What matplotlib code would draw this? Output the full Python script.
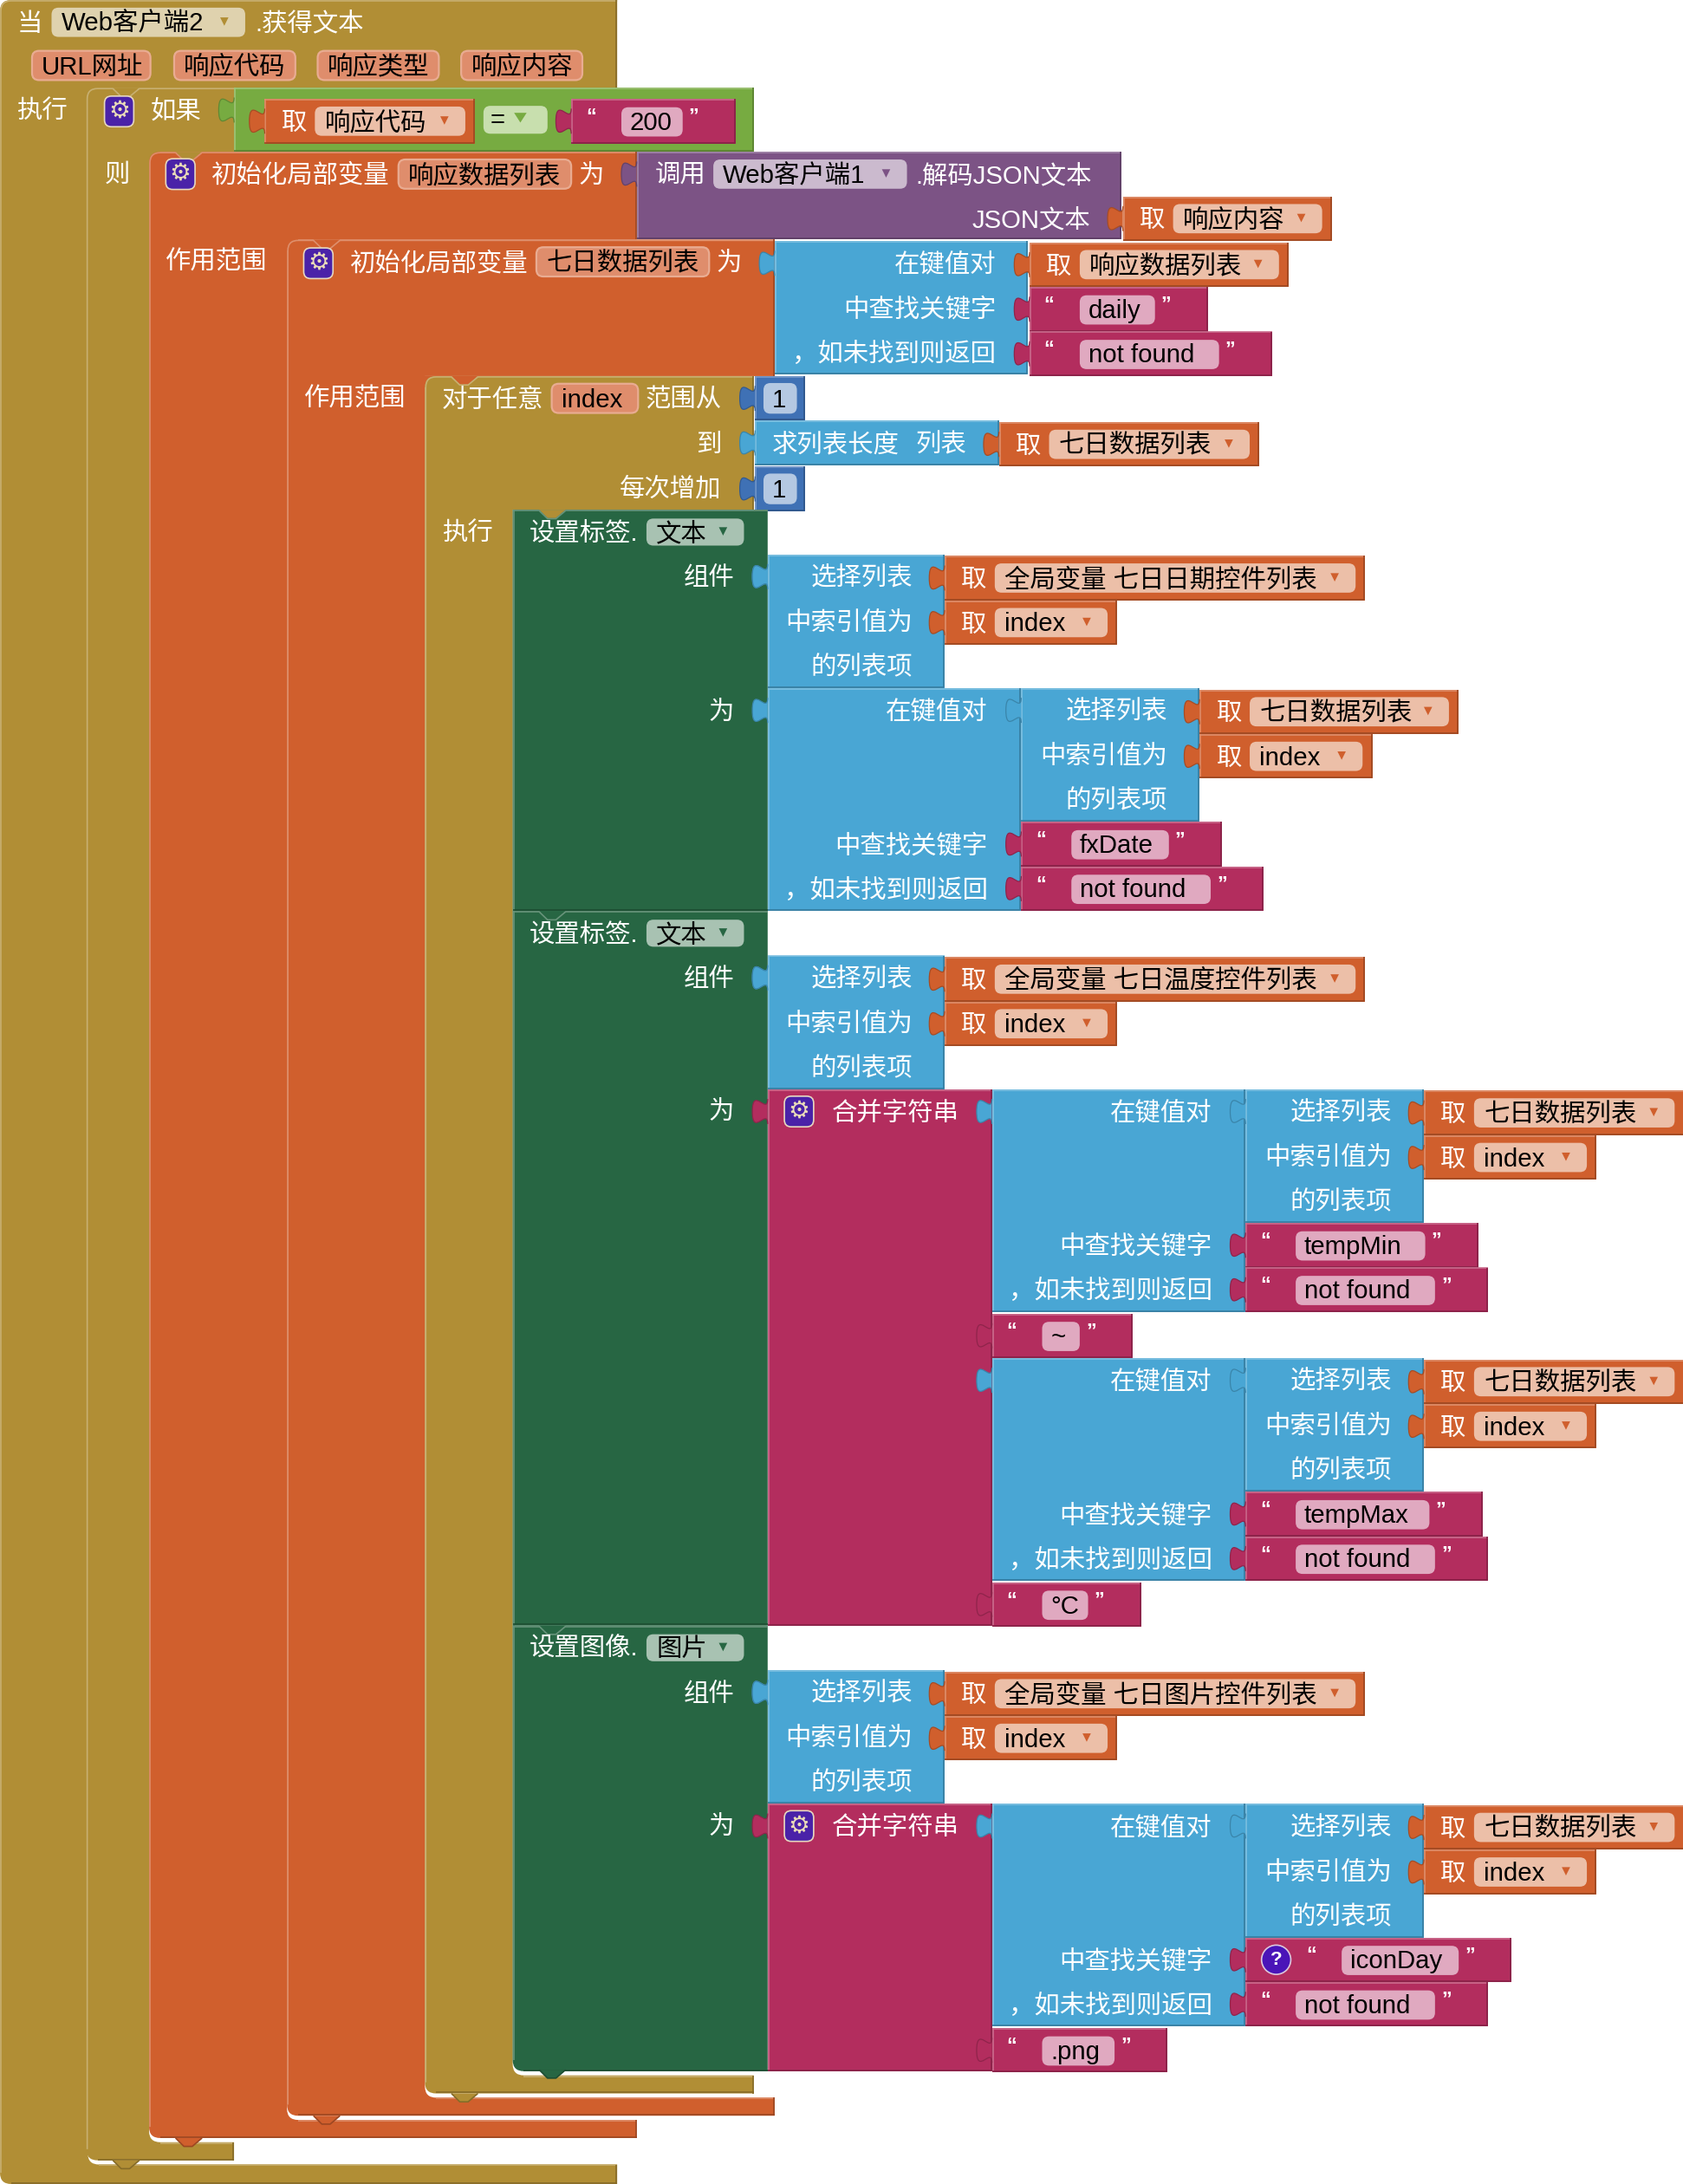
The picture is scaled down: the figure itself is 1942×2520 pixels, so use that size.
import matplotlib
matplotlib.use("Agg")
import matplotlib.pyplot as plt
from matplotlib.colors import to_rgb
from matplotlib.patches import Circle, FancyBboxPatch, PathPatch
from matplotlib.path import Path

plt.rcParams["font.family"] = ["Liberation Sans", "Noto Sans CJK SC", "DejaVu Sans"]

GOLD = "#B18E35"
ORANGE = "#D05F2D"
PURPLE = "#7C5385"
BLUE = "#49A6D4"
ROSE = "#B32D5E"
DARK_GREEN = "#276643"
NUM_BLUE = "#3F71B5"
LOGIC_GREEN = "#77AB41"
ICON = "#4A22A8"

FONT_SIZE = 21.2

EVENT_PARAMS = ["URL网址", "响应代码", "响应类型", "响应内容"]
LOOKUP_LABELS = ["在键值对", "中查找关键字", "，如未找到则返回"]
SELECT_LABELS = ["选择列表", "中索引值为", "的列表项"]
NOT_FOUND = "not found"
DAILY_LIST = "七日数据列表"
DATE_WIDGETS = "全局变量 七日日期控件列表"
TEMP_WIDGETS = "全局变量 七日温度控件列表"
IMAGE_WIDGETS = "全局变量 七日图片控件列表"
KEY_DATE = "fxDate"
KEY_MIN = "tempMin"
KEY_MAX = "tempMax"
KEY_ICON = "iconDay"


def shade(color, amount):
    rgb = to_rgb(color)
    if amount >= 0:
        return tuple(c + (1 - c) * amount for c in rgb)
    return tuple(c * (1 + amount) for c in rgb)


def label(ax, x, y, text, color="white", ha="left", size=FONT_SIZE, weight="normal"):
    ax.text(x, y + 1.3, text, color=color, ha=ha, va="center", fontsize=size, fontweight=weight,
            zorder=ax.next_z())


def edge(ax, xs, ys, color):
    ax.plot(xs, ys, color=color, lw=1.2, solid_capstyle="butt", zorder=ax.next_z())


def tab(ax, x, y, color):
    sx, sy = 11 / 8, 18 / 15
    pts = [(0, 7 / sy), (0, 10 + 7 / sy), (-8, -8 + 7 / sy), (-8, 7.5 + 7 / sy),
           (-8, 23 + 7 / sy), (0, 5 + 7 / sy), (0, 15 + 7 / sy)]
    verts = [(x + px * sx, y + py * sy) for px, py in pts]
    codes = [Path.MOVETO] + [Path.CURVE4] * 6
    ax.add_patch(PathPatch(Path(verts + [verts[0]], codes + [Path.CLOSEPOLY]), facecolor=color,
                           edgecolor="none", lw=0, zorder=ax.next_z()))
    ax.add_patch(PathPatch(Path(verts, codes), facecolor="none", edgecolor=shade(color, -0.2),
                           lw=0.9, zorder=ax.next_z()))


def box(ax, x0, y0, x1, y1, color, with_tab=True):
    ax.fill([x0, x1, x1, x0], [y0, y0, y1, y1], color=color, lw=0, zorder=ax.next_z())
    edge(ax, [x0, x1], [y0 + 0.6, y0 + 0.6], shade(color, 0.3))
    edge(ax, [x0 + 0.6, x0 + 0.6], [y0, y1], shade(color, 0.3))
    edge(ax, [x0, x1 - 0.6, x1 - 0.6], [y1 - 0.6, y1 - 0.6, y0], shade(color, -0.25))
    if with_tab:
        tab(ax, x0, y0, color)


def pill(ax, x0, y0, x1, y1, color, border=None):
    pad = 4
    ax.add_patch(FancyBboxPatch((x0 + pad, y0 + pad), x1 - x0 - 2 * pad, y1 - y0 - 2 * pad,
                                boxstyle=f"round,pad={pad},rounding_size=5",
                                facecolor=color, edgecolor=border or color,
                                lw=1.6 if border else 0, zorder=ax.next_z()))


def dropdown(ax, x0, x1, yc, text, fill, arrow, h=10.5):
    pill(ax, x0, yc - h, x1, yc + h, fill)
    label(ax, x0 + 7, yc, text, color="black")
    ax.fill([x1 - 18, x1 - 12, x1 - 15], [yc - 3.5, yc - 3.5, yc + 2.5], color=arrow, lw=0,
            zorder=ax.next_z())


def param(ax, x0, x1, yc, text):
    pill(ax, x0, yc - 10.5, x1, yc + 10.5, "#DF8D6C", border="#E9AC92")
    label(ax, x0 + 7, yc, text, color="black")


def mutator(ax, x, y):
    ax.add_patch(FancyBboxPatch((x + 4, y + 4), 13, 14, boxstyle="round,pad=4,rounding_size=5",
                                facecolor=ICON, edgecolor="#E6D8C0", lw=1.2, zorder=ax.next_z()))
    ax.text(x + 10.5, y + 10.5, "⚙", color="#EADCB8", ha="center", va="center", fontsize=20,
            family="DejaVu Sans", zorder=ax.next_z())


def get_block(ax, x, y, w, name):
    box(ax, x, y, x + w, y + 32, ORANGE)
    label(ax, x + 12, y + 16, "取")
    dropdown(ax, x + 36, x + w - 7, y + 16, name, "#ECBFA8", ORANGE)


def string_block(ax, x, y, w, text, icon=False):
    box(ax, x, y, x + w, y + 32, ROSE)
    shift = 0
    if icon:
        shift = 33
        ax.add_patch(Circle((x + 22, y + 16), 10.5, facecolor="#4A14B8", edgecolor="#DCC8DC",
                            lw=1.2, zorder=ax.next_z()))
        label(ax, x + 22, y + 15, "?", ha="center", size=16, weight="bold")
    label(ax, x + 14 + shift, y + 12, "“", size=17, ha="center", weight="bold")
    pill(ax, x + 36 + shift, y + 6, x + w - 38, y + 27, "#E0A9C0")
    label(ax, x + 42 + shift, y + 16, text, color="black")
    label(ax, x + w - 30, y + 12, "”", size=17, ha="center", weight="bold")


def number_block(ax, x, y, value):
    box(ax, x, y, x + 36, y + 32, NUM_BLUE)
    pill(ax, x + 6, y + 5, x + 30, y + 27, "#B4C8E2")
    label(ax, x + 17, y + 16, value, color="black", ha="center")


def select_block(ax, x, y, w, list_name, get_w):
    box(ax, x, y, x + w, y + 96, BLUE)
    for i, text in enumerate(SELECT_LABELS):
        label(ax, x + w - 23, y + 16 + 32 * i, text, ha="right")
    get_block(ax, x + w, y + 1, get_w, list_name)
    get_block(ax, x + w, y + 33, 124, "index")


def lookup_block(ax, x, y, key, key_w, icon=False):
    box(ax, x, y, x + 182, y + 160, BLUE)
    label(ax, x + 158, y + 16, LOOKUP_LABELS[0], ha="right")
    label(ax, x + 158, y + 112, LOOKUP_LABELS[1], ha="right")
    label(ax, x + 158, y + 144, LOOKUP_LABELS[2], ha="right")
    select_block(ax, x + 182, y, 128, DAILY_LIST, 187)
    string_block(ax, x + 182, y + 96, key_w, key, icon=icon)
    string_block(ax, x + 182, y + 128, 174, NOT_FOUND)


def notch_top(ax, x, y, parent, color):
    ax.fill([x + 19, x + 38, x + 31, x + 25], [y, y, y + 6, y + 6], color=parent, lw=0,
            zorder=ax.next_z())
    edge(ax, [x + 19, x + 25, x + 31, x + 38], [y + 0.6, y + 6.4, y + 6.4, y + 0.6], shade(color, 0.3))


def notch_bottom(ax, x, y, color):
    ax.fill([x + 19, x + 38, x + 31, x + 25], [y, y, y + 6, y + 6], color=color, lw=0,
            zorder=ax.next_z())
    edge(ax, [x + 19, x + 25, x + 31, x + 38], [y, y + 6, y + 6, y], shade(color, -0.25))


def c_block(ax, x0, y0, head_r, head_b, in_l, in_b, right, y1, color, parent=None):
    r = 8
    if parent:
        # the parent shows through behind the rounded corner
        ax.fill([x0, x0 + r, x0 + r, x0], [y0, y0, y0 + r, y0 + r], color=parent, lw=0,
                zorder=ax.next_z())
    verts = [(x0, y0 + r), (x0, y0), (x0 + r, y0), (head_r, y0), (head_r, head_b), (in_l, head_b),
             (in_l, in_b - r), (in_l, in_b), (in_l + r, in_b), (right, in_b), (right, y1),
             (x0 + r, y1), (x0, y1), (x0, y1 - r), (x0, y0 + r)]
    codes = [Path.MOVETO, Path.CURVE3, Path.CURVE3, Path.LINETO, Path.LINETO, Path.LINETO,
             Path.LINETO, Path.CURVE3, Path.CURVE3, Path.LINETO, Path.LINETO, Path.LINETO,
             Path.CURVE3, Path.CURVE3, Path.CLOSEPOLY]
    ax.add_patch(PathPatch(Path(verts, codes), facecolor=color, edgecolor="none", lw=0,
                           zorder=ax.next_z()))
    light, dark = shade(color, 0.3), shade(color, -0.25)
    arc = Path([(x0 + 0.6, y1 - r), (x0 + 0.6, y0 + r), (x0 + 0.6, y0 + 0.6), (x0 + r, y0 + 0.6),
                (head_r, y0 + 0.6)],
               [Path.MOVETO, Path.LINETO, Path.CURVE3, Path.CURVE3, Path.LINETO])
    ax.add_patch(PathPatch(arc, facecolor="none", edgecolor=light, lw=1.2, zorder=ax.next_z()))
    edge(ax, [head_r - 0.6, head_r - 0.6], [y0, head_b], dark)
    edge(ax, [in_l + r, right], [in_b + 0.6, in_b + 0.6], light)
    edge(ax, [right - 0.6, right - 0.6], [in_b, y1], dark)
    edge(ax, [x0 + r, right], [y1 - 0.7, y1 - 0.7], dark)
    if parent:
        notch_top(ax, x0, y0, parent, color)
        notch_bottom(ax, x0, y1, color)


def set_block(ax, y0, y1, text, prop, bottom=False):
    x0, x1 = 368, 551
    r = 8 if bottom else 0
    verts = [(x0, y0), (x1, y0), (x1, y1), (x0 + r, y1), (x0, y1), (x0, y1 - r), (x0, y0)]
    codes = [Path.MOVETO, Path.LINETO, Path.LINETO, Path.LINETO, Path.CURVE3, Path.CURVE3,
             Path.CLOSEPOLY]
    ax.add_patch(PathPatch(Path(verts, codes), facecolor=DARK_GREEN, lw=0, zorder=ax.next_z()))
    edge(ax, [x0 + 0.6, x0 + 0.6], [y0, y1 - r], shade(DARK_GREEN, 0.3))
    edge(ax, [x0, x1], [y0 + 0.6, y0 + 0.6], shade(DARK_GREEN, 0.3))
    edge(ax, [x0 + r, x1], [y1 - 0.7, y1 - 0.7], shade(DARK_GREEN, -0.25))
    notch_top(ax, x0, y0, GOLD if y0 == 366 else DARK_GREEN, DARK_GREEN)
    label(ax, 380, y0 + 16, text)
    dropdown(ax, 464, 534, y0 + 16, prop, "#A8C2B2", DARK_GREEN, h=9.7)
    label(ax, 527, y0 + 48, "组件", ha="right")
    tab(ax, 551, y0 + 32, BLUE)


def join_head(ax, y, h):
    box(ax, 551, y, 712, y + h, ROSE)
    mutator(ax, 563, y + 5)
    label(ax, 597, y + 16, "合并字符串")


def main():
    fig = plt.figure(figsize=(19.42, 25.2), dpi=100)
    ax = fig.add_axes([0, 0, 1, 1])
    ax.set_xlim(0, 1208)
    ax.set_ylim(1568, 0)
    ax.axis("off")
    counter = [1]

    def next_z():
        counter[0] += 1
        return counter[0]

    ax.next_z = next_z

    # event block
    c_block(ax, 0, 0, 443, 64, 63, 1554, 443, 1568, GOLD)
    label(ax, 12, 16, "当")
    dropdown(ax, 37, 176, 16, "Web客户端2", "#DFD2AE", GOLD)
    label(ax, 183, 16, ".获得文本")
    for (x0, x1), text in zip([(23, 108), (125, 212), (228, 315), (331, 418)], EVENT_PARAMS):
        param(ax, x0, x1, 47, text)
    label(ax, 12, 78, "执行")

    # if block
    c_block(ax, 62, 63, 169, 109, 107, 1538, 168, 1551, GOLD, parent=GOLD)
    box(ax, 168, 63, 541, 109, LOGIC_GREEN)
    mutator(ax, 75, 69)
    label(ax, 108, 79, "如果")
    label(ax, 75, 124, "则")
    get_block(ax, 190, 71, 151, "响应代码")
    pill(ax, 347, 76, 393, 96, "#C8DFAE")
    label(ax, 352, 85, "=", color="black")
    ax.fill([369, 378, 373.5], [81, 81, 88], color=LOGIC_GREEN, lw=0, zorder=next_z())
    string_block(ax, 410, 71, 118, "200")

    # first local variable
    c_block(ax, 107, 109, 457, 172, 206, 1522, 457, 1535, ORANGE, parent=GOLD)
    mutator(ax, 119, 114)
    label(ax, 152, 125, "初始化局部变量")
    param(ax, 286, 410, 125, "响应数据列表")
    label(ax, 415, 125, "为")
    label(ax, 119, 187, "作用范围")
    box(ax, 457, 109, 805, 172, PURPLE)
    label(ax, 470, 125, "调用")
    dropdown(ax, 512, 651, 125, "Web客户端1", "#CBBACE", PURPLE)
    label(ax, 657, 125, ".解码JSON文本")
    label(ax, 783, 157, "JSON文本", ha="right")
    get_block(ax, 806, 141, 150, "响应内容")

    # second local variable
    c_block(ax, 206, 172, 556, 270, 305, 1506, 556, 1519, ORANGE, parent=ORANGE)
    mutator(ax, 218, 178)
    label(ax, 251, 188, "初始化局部变量")
    param(ax, 385, 509, 188, DAILY_LIST)
    label(ax, 514, 188, "为")
    label(ax, 218, 285, "作用范围")
    box(ax, 556, 173, 738, 269, BLUE)
    for i, text in enumerate(LOOKUP_LABELS):
        label(ax, 715, 189 + 32 * i, text, ha="right")
    get_block(ax, 739, 174, 186, "响应数据列表")
    string_block(ax, 739, 206, 128, "daily")
    string_block(ax, 739, 238, 174, NOT_FOUND)

    # for each
    c_block(ax, 305, 270, 541, 366, 368, 1490, 541, 1503, GOLD, parent=ORANGE)
    label(ax, 317, 286, "对于任意")
    param(ax, 396, 458, 286, "index")
    label(ax, 518, 286, "范围从", ha="right")
    label(ax, 518, 318, "到", ha="right")
    label(ax, 518, 350, "每次增加", ha="right")
    label(ax, 317, 381, "执行")
    number_block(ax, 542, 270, "1")
    box(ax, 542, 302, 717, 334, BLUE)
    label(ax, 554, 318, "求列表长度")
    label(ax, 657, 318, "列表")
    get_block(ax, 717, 303, 187, DAILY_LIST)
    number_block(ax, 542, 335, "1")

    # set date label
    set_block(ax, 366, 654, "设置标签.", "文本")
    label(ax, 527, 510, "为", ha="right")
    select_block(ax, 551, 398, 127, DATE_WIDGETS, 302)
    box(ax, 551, 494, 733, 654, BLUE)
    label(ax, 709, 510, LOOKUP_LABELS[0], ha="right")
    label(ax, 709, 606, LOOKUP_LABELS[1], ha="right")
    label(ax, 709, 638, LOOKUP_LABELS[2], ha="right")
    select_block(ax, 733, 494, 128, DAILY_LIST, 186)
    string_block(ax, 733, 590, 144, KEY_DATE)
    string_block(ax, 733, 622, 174, NOT_FOUND)

    # set temperature label
    set_block(ax, 654, 1167, "设置标签.", "文本")
    label(ax, 527, 797, "为", ha="right")
    select_block(ax, 551, 686, 127, TEMP_WIDGETS, 302)
    join_head(ax, 782, 385)
    lookup_block(ax, 712, 782, KEY_MIN, 167)
    string_block(ax, 712, 943, 101, "~")
    lookup_block(ax, 712, 975, KEY_MAX, 170)
    string_block(ax, 712, 1136, 107, "°C")

    # set image
    set_block(ax, 1167, 1487, "设置图像.", "图片", bottom=True)
    notch_bottom(ax, 368, 1486, DARK_GREEN)
    label(ax, 527, 1310, "为", ha="right")
    select_block(ax, 551, 1199, 127, IMAGE_WIDGETS, 302)
    join_head(ax, 1295, 192)
    lookup_block(ax, 712, 1295, KEY_ICON, 191, icon=True)
    string_block(ax, 712, 1456, 126, ".png")

    fig.savefig("out.png", dpi=100)
    plt.close(fig)


if __name__ == "__main__":
    main()
